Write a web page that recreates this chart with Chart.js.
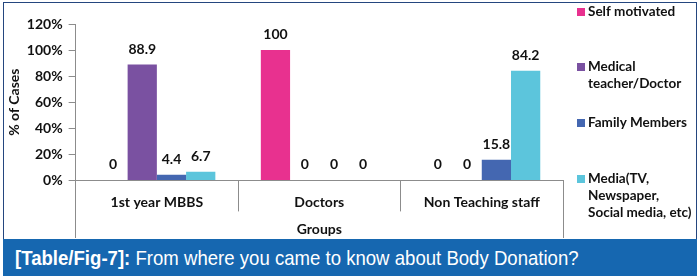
<!DOCTYPE html>
<html lang="en">
<head>
<meta charset="UTF-8">
<title>Body Donation</title>
<script src="https://cdn.jsdelivr.net/npm/chart.js@4"></script>
<style>
  html, body { margin: 0; padding: 0; background: #fff; }
  #frame { position: relative; width: 700px; height: 276px; overflow: hidden; background: #fff; }
  #frame canvas { position: absolute; left: 0; top: 0; }
  #border { position: absolute; left: 3px; top: 2px; width: 694px; height: 274px; border: 1px solid #24467f; border-bottom: none; box-sizing: border-box; pointer-events: none; }
  #caption { position: absolute; left: 3px; top: 239px; width: 694px; height: 37px; background: #1667b0; color: #fff;
    font-family: "Liberation Sans", Arial, sans-serif; font-size: 21px; line-height: 37px;
    padding-left: 12px; box-sizing: border-box; white-space: nowrap; }
  #caption span { display: inline-block; transform: scaleX(0.885); transform-origin: left center; }
</style>
</head>
<body>
<div id="frame">
  <canvas id="fig7" width="700" height="238"></canvas>
  <div id="border"></div>
  <div id="caption"><span><b>[Table/Fig-7]:</b> From where you came to know about Body Donation?</span></div>
</div>

<script>
  // values (% of cases)
  const categories = ["1st year MBBS", "Doctors", "Non Teaching staff"];
  const seriesNames = ["Self motivated", "Medical teacher/Doctor", "Family Members", "Media(TV, Newspaper, Social media, etc)"];
  const legendLines = [["Self motivated"], ["Medical", "teacher/Doctor"], ["Family Members"], ["Media(TV,", "Newspaper,", "Social media, etc)"]];
  const selfMotivated = [0, 100, 0];
  const medicalTeacher = [88.9, 0, 0];
  const familyMembers = [4.4, 0, 15.8];
  const media = [6.7, 0, 84.2];
  const yTicks = [0, 20, 40, 60, 80, 100, 120];

  const colors = ["#e8318f", "#7a51a1", "#4467b1", "#5cc5dc"];
  const axisGrey = "#8c8c8c";
  const ink = "#111";

  Chart.defaults.font.family = "Lato";

  // numbers above the bars
  const valueLabels = {
    id: "valueLabels",
    afterDatasetsDraw(chart) {
      const ctx = chart.ctx;
      ctx.save();
      ctx.font = "bold 14px Lato";
      ctx.fillStyle = ink;
      ctx.textAlign = "center";
      ctx.textBaseline = "alphabetic";
      chart.data.datasets.forEach((ds, i) => {
        chart.getDatasetMeta(i).data.forEach((bar, j) => {
          ctx.fillText(String(ds.data[j]), bar.x, bar.y - 11);
        });
      });
      ctx.restore();
    }
  };

  // outer edges of the category table run down to the caption
  const edgeLines = {
    id: "edgeLines",
    afterDraw(chart) {
      const { ctx, chartArea } = chart;
      const align = p => Math.round(p - 0.5) + 0.5;
      ctx.save();
      ctx.strokeStyle = axisGrey;
      ctx.lineWidth = 1;
      ctx.beginPath();
      [chartArea.left, chartArea.right].forEach(x => {
        ctx.moveTo(align(x), chartArea.bottom);
        ctx.lineTo(align(x), chart.height);
      });
      ctx.stroke();
      ctx.restore();
    }
  };

  // legend on the right, spread out like the original
  const sideLegend = {
    id: "sideLegend",
    afterDraw(chart) {
      const ctx = chart.ctx;
      const x0 = chart.chartArea.right + 14;
      const rows = [12, 67, 123, 179];
      ctx.save();
      ctx.font = "bold 13.5px Lato";
      ctx.textAlign = "left";
      ctx.textBaseline = "middle";
      chart.data.datasets.forEach((ds, i) => {
        const y = rows[i];
        ctx.fillStyle = ds.backgroundColor;
        ctx.fillRect(x0, y - 4, 8, 8);
        ctx.fillStyle = ink;
        legendLines[i].forEach((line, k) => ctx.fillText(line, x0 + 11, y + k * 17));
      });
      ctx.restore();
    }
  };

  const seriesData = [selfMotivated, medicalTeacher, familyMembers, media];

  new Chart(document.getElementById("fig7").getContext("2d"), {
    type: "bar",
    data: {
      labels: categories,
      datasets: seriesNames.map((name, i) => ({
        label: name,
        data: seriesData[i],
        backgroundColor: colors[i],
        barPercentage: 1,
        categoryPercentage: 0.72
      }))
    },
    options: {
      responsive: false,
      animation: false,
      layout: { padding: { top: 24, right: 137, bottom: 0, left: 0 } },
      plugins: {
        legend: { display: false },
        tooltip: { enabled: false }
      },
      scales: {
        x: {
          offset: true,
          grid: { offset: true, drawOnChartArea: false, tickLength: 31, color: axisGrey },
          border: { color: axisGrey },
          ticks: { padding: -17, color: ink, autoSkip: false, maxRotation: 0, font: { size: 14, weight: "bold" } },
          title: { display: true, text: "Groups", color: ink, font: { size: 14, weight: "bold" }, padding: { top: 27, bottom: 0 } }
        },
        y: {
          min: 0,
          max: 120,
          afterBuildTicks: axis => { axis.ticks = yTicks.map(v => ({ value: v })); },
          grid: { drawOnChartArea: false, tickLength: 7, color: axisGrey },
          border: { color: axisGrey },
          ticks: { padding: 6, color: ink, font: { size: 14, weight: "bold" }, callback: v => v + "%" },
          title: { display: true, text: "% of Cases", color: ink, font: { size: 14, weight: "bold" }, padding: { top: 6, bottom: -2 } }
        }
      }
    },
    plugins: [valueLabels, edgeLines, sideLegend]
  });
</script>
</body>
</html>
